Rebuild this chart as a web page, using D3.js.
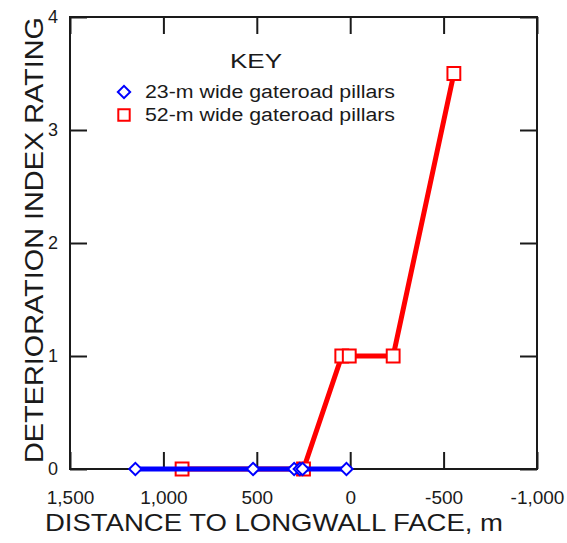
<!DOCTYPE html>
<html>
<head>
<meta charset="utf-8">
<script src="https://cdn.jsdelivr.net/npm/d3@7"></script>
<style>
  body { margin: 0; background: #fff; }
  text { font-family: "Liberation Sans", Arial, sans-serif; fill: #1a1a1a; }
</style>
</head>
<body>
<script>
// distance to longwall face (m) and deterioration index rating
var narrowX = [1150, 520, 300, 270, 255, 20];
var narrowY = [0, 0, 0, 0, 0, 0];
var wideX = [900, 250, 45, 5, -230, -555];
var wideY = [0, 0, 1, 1, 1, 3.5];
var xTicks = [1500, 1000, 500, 0, -500, -1000];
var yTicks = [0, 1, 2, 3, 4];
var seriesNames = ['23-m wide gateroad pillars', '52-m wide gateroad pillars'];

var w = 567, h = 543;
var pLeft = 70, pRight = 537, pTop = 17, pBottom = 469;

var svg = d3.select('body').append('svg')
  .attr('width', w)
  .attr('height', h);

var x = d3.scaleLinear().domain([1500, -1000]).range([pLeft, pRight]);
var y = d3.scaleLinear().domain([0, 4]).range([pBottom, pTop]);

var fmt = function (d) { return d3.format(',')(d).replace('\u2212', '-'); };

// axes, ticks pointing inward
var bx = svg.append('g').attr('transform', 'translate(0,' + pBottom + ')')
  .call(d3.axisBottom(x).tickValues(xTicks).tickFormat(fmt).tickSizeInner(-17).tickSizeOuter(0).tickPadding(22));
var tx = svg.append('g').attr('transform', 'translate(0,' + pTop + ')')
  .call(d3.axisTop(x).tickValues(xTicks).tickFormat('').tickSizeInner(-17).tickSizeOuter(0));
var ly = svg.append('g').attr('transform', 'translate(' + pLeft + ',0)')
  .call(d3.axisLeft(y).tickValues(yTicks).tickFormat(d3.format('d')).tickSizeInner(-17).tickSizeOuter(0).tickPadding(12));
var ry = svg.append('g').attr('transform', 'translate(' + pRight + ',0)')
  .call(d3.axisRight(y).tickValues(yTicks).tickFormat('').tickSizeInner(-17).tickSizeOuter(0));

[bx, tx, ly, ry].forEach(function (g) {
  g.select('.domain').remove();
  g.selectAll('line').attr('stroke', '#1a1a1a').attr('stroke-width', 2);
  g.selectAll('text').attr('font-size', 18).style('font-family', '"Liberation Sans", Arial, sans-serif').attr('fill', '#1a1a1a');
});
bx.selectAll('text').attr('font-size', 19);

svg.append('rect')
  .attr('x', pLeft).attr('y', pTop)
  .attr('width', pRight - pLeft).attr('height', pBottom - pTop)
  .attr('fill', 'none')
  .attr('stroke', '#1a1a1a')
  .attr('stroke-width', 2);

// axis titles (the original lettering is a little wider than Arial)
svg.append('text')
  .attr('x', 274).attr('y', 531)
  .attr('text-anchor', 'middle')
  .attr('font-size', 24)
  .attr('textLength', 458)
  .attr('lengthAdjust', 'spacingAndGlyphs')
  .text('DISTANCE TO LONGWALL FACE, m');
svg.append('text')
  .attr('transform', 'translate(43,240) rotate(-90)')
  .attr('text-anchor', 'middle')
  .attr('font-size', 25)
  .attr('textLength', 446)
  .attr('lengthAdjust', 'spacingAndGlyphs')
  .text('DETERIORATION INDEX RATING');

var line = d3.line()
  .x(function (d) { return x(d[0]); })
  .y(function (d) { return y(d[1]); });

var wide = wideX.map(function (v, i) { return [v, wideY[i]]; });
var narrow = narrowX.map(function (v, i) { return [v, narrowY[i]]; });

var square = d3.symbol(d3.symbolSquare, 165);
var diamond = d3.symbol(d3.symbolSquare, 76);

// 52-m series
svg.append('path').datum(wide)
  .attr('d', line)
  .attr('fill', 'none')
  .attr('stroke', '#ff0000')
  .attr('stroke-width', 5);
svg.selectAll('.sq').data(wide).enter().append('path')
  .attr('class', 'sq')
  .attr('d', square)
  .attr('transform', function (d) { return 'translate(' + x(d[0]) + ',' + y(d[1]) + ')'; })
  .attr('fill', '#fff')
  .attr('stroke', '#ff0000')
  .attr('stroke-width', 2);

// 23-m series
svg.append('path').datum(narrow)
  .attr('d', line)
  .attr('fill', 'none')
  .attr('stroke', '#0000ff')
  .attr('stroke-width', 5);
svg.selectAll('.dm').data(narrow).enter().append('path')
  .attr('class', 'dm')
  .attr('d', diamond)
  .attr('transform', function (d) { return 'translate(' + x(d[0]) + ',' + y(d[1]) + ') rotate(45)'; })
  .attr('fill', '#fff')
  .attr('stroke', '#0000ff')
  .attr('stroke-width', 2);

// key
svg.append('text')
  .attr('x', 256).attr('y', 68)
  .attr('text-anchor', 'middle')
  .attr('font-size', 21)
  .attr('textLength', 52)
  .attr('lengthAdjust', 'spacingAndGlyphs')
  .text('KEY');

var key = svg.append('g');
key.append('path')
  .attr('d', diamond)
  .attr('transform', 'translate(124,92) rotate(45)')
  .attr('fill', '#fff').attr('stroke', '#0000ff').attr('stroke-width', 2);
key.append('path')
  .attr('d', d3.symbol(d3.symbolSquare, 130))
  .attr('transform', 'translate(124,115)')
  .attr('fill', '#fff').attr('stroke', '#ff0000').attr('stroke-width', 2);
key.selectAll('text').data(seriesNames).enter().append('text')
  .attr('x', 145)
  .attr('y', function (d, i) { return 98 + i * 23; })
  .attr('font-size', 18)
  .attr('textLength', 250)
  .attr('lengthAdjust', 'spacingAndGlyphs')
  .text(function (d) { return d; });
</script>
</body>
</html>
